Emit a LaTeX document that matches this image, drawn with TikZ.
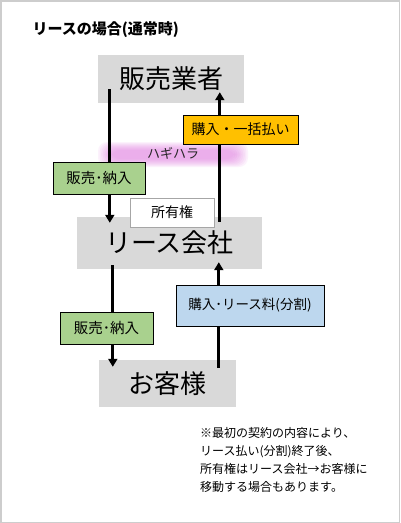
\documentclass[tikz,border=0pt]{standalone}
\usepackage{fontspec}
\setmainfont{Noto Sans CJK JP}
\usetikzlibrary{arrows.meta}
\definecolor{boxgray}{RGB}{217,217,217}
\definecolor{orangebox}{RGB}{255,192,0}
\definecolor{greenbox}{RGB}{169,209,142}
\definecolor{bluebox}{RGB}{189,215,238}
\definecolor{framegray}{RGB}{205,205,205}
\definecolor{glowpink}{RGB}{225,120,225}
\tikzset{
  party/.style={fill=boxgray, draw=none, inner sep=0pt, font=\fontsize{26}{30}\selectfont},
  tag/.style={draw=black, line width=0.8pt, inner sep=0pt, font=\fontsize{14}{16}\selectfont},
  flow/.style={line width=2.9pt, -{Triangle[width=9pt,length=8pt]}},
}
\begin{document}
\begin{tikzpicture}[x=1pt,y=-1pt]
\useasboundingbox (0,0) rectangle (400,523);
\fill[white] (0,0) rectangle (400,523);
\draw[framegray, line width=1.5pt] (0.75,0.75) rectangle (399.25,522.25);

\node[anchor=west, font=\fontsize{15}{18}\selectfont\bfseries] (title) at (29,30) {リースの場合(通常時)};

\node[party, minimum width=146pt, minimum height=48pt] (seller) at (171,79) {販売業者};
\node[party, minimum width=185pt, minimum height=52pt] (lease) at (169.5,243) {リース会社};
\node[party, minimum width=137pt, minimum height=47pt] (cust) at (167.5,383.5) {お客様};

% glow
\foreach \i in {0,...,8}{
  \fill[glowpink, opacity=0.09, rounded corners=9pt] (98+\i*1.6,142+\i) rectangle (248-\i*1.6,167-\i);
}
\node[font=\fontsize{13}{15}\selectfont, text=black!85] (hagi) at (173,153) {ハギハラ};

\draw[flow] ([xshift=12pt,yshift=14pt]seller.south west) -- ([xshift=33pt,yshift=-6pt]lease.north west);
\draw[flow] ([xshift=143pt,yshift=-5pt]lease.north west) -- ([xshift=122pt,yshift=11pt]seller.south west);
\draw[flow] ([xshift=36pt,yshift=4pt]lease.south west) -- ([xshift=14pt,yshift=-7pt]cust.north west);
\draw[flow] ([xshift=120pt,yshift=-8pt]cust.north west) -- ([xshift=142pt,yshift=7pt]lease.south west);

\node[tag, fill=orangebox, minimum width=115pt, minimum height=29pt] (buy1) at (240.5,129.5) {購入・一括払い};
\node[tag, fill=greenbox, minimum width=92pt, minimum height=32pt, font=\fontsize{14.5}{16}\selectfont] (sell1) at (99,178) {販売･納入};
\node[tag, fill=white, draw=black!35, minimum width=84pt, minimum height=29pt, font=\fontsize{14}{16}\selectfont] (own) at (172,212.5) {所有権};
\node[tag, fill=greenbox, minimum width=93pt, minimum height=32pt, font=\fontsize{14.5}{16}\selectfont] (sell2) at (106.5,328) {販売･納入};
\node[tag, fill=bluebox, minimum width=148pt, minimum height=41pt, font=\fontsize{13.5}{16}\selectfont] (buy2) at (250,305.5) {購入･リース料(分割)};

\node[anchor=north west, align=left, inner sep=0pt, font=\fontsize{12}{18}\selectfont] (note) at (200,427) {※最初の契約の内容により、\\リース払い(分割)終了後、\\所有権はリース会社→お客様に\\移動する場合もあります。};
\end{tikzpicture}
\end{document}
